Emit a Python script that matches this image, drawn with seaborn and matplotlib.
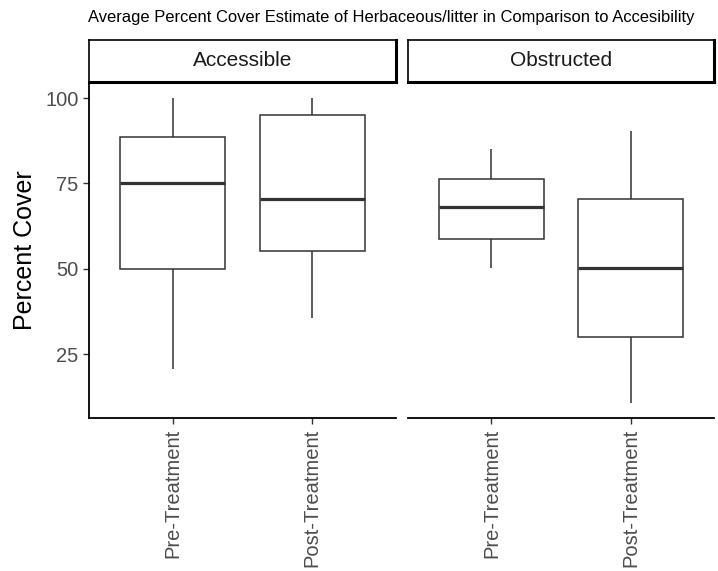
import matplotlib
matplotlib.use("Agg")
import matplotlib.pyplot as plt
import seaborn as sns
import pandas as pd
import numpy as np

# ---- data (5 observations per group, read from box/whisker positions) ----
access_levels = ["Accessible", "Obstructed"]
treatments = ["Pre-Treatment", "Post-Treatment"]
acc_pre = [20.5, 50.0, 75.0, 88.6, 100.0]
acc_post = [35.5, 55.3, 70.5, 95.0, 100.0]
obs_pre = [50.3, 58.7, 68.0, 76.4, 85.2]
obs_post = [10.7, 30.0, 50.3, 70.5, 90.3]
yticks = [25, 50, 75, 100]
title = "Average Percent Cover Estimate of Herbaceous/litter in Comparison to Accesibility"
ylabel = "Percent Cover"

rows = []
for acc, tr, vals in [("Accessible", "Pre-Treatment", acc_pre),
                      ("Accessible", "Post-Treatment", acc_post),
                      ("Obstructed", "Pre-Treatment", obs_pre),
                      ("Obstructed", "Post-Treatment", obs_post)]:
    for v in vals:
        rows.append({"Access": acc, "Treatment": tr, "Cover": v})
df = pd.DataFrame(rows)

sns.set_theme(style="white")
plt.rcParams["font.family"] = ["Liberation Sans", "DejaVu Sans"]

W, H = 718, 571
fig = plt.figure(figsize=(W / 100, H / 100), dpi=100)

def fx(px):
    return px / W

def fy(px):
    return 1 - px / H

panel_x = [(89, 396), (408, 714)]
ptop, pbot = 83, 418
strip_top = 40

allv = df["Cover"]
rng = allv.max() - allv.min()
ylim = (allv.min() - 0.05 * rng, allv.max() + 0.05 * rng)

for i, acc in enumerate(access_levels):
    x0, x1 = panel_x[i]
    ax = fig.add_axes([fx(x0), fy(pbot), fx(x1 - x0), (pbot - ptop) / H])
    sub = df[df["Access"] == acc]
    sns.boxplot(data=sub, x="Treatment", y="Cover", order=treatments, ax=ax,
                color="white", linecolor="#333333", linewidth=1.1, width=0.75,
                showcaps=False, whis=1.5,
                medianprops={"linewidth": 2.3, "color": "#333333"},
                boxprops={"facecolor": "white"})
    ax.set_xlim(-0.6, 1.6)
    ax.set_ylim(*ylim)
    ax.set_xlabel("")
    for s in ["top", "right"]:
        ax.spines[s].set_visible(False)
    ax.spines["bottom"].set_color("black")
    ax.spines["bottom"].set_linewidth(1.3)
    ax.tick_params(axis="x", bottom=True, length=4.5, width=1.0, color="#333333",
                   labelsize=14.5, labelcolor="#4D4D4D", pad=3)
    ax.set_xticks(range(len(treatments)))
    ax.set_xticklabels(treatments, rotation=90, ha="center", va="top")
    if i == 0:
        ax.spines["left"].set_color("black")
        ax.spines["left"].set_linewidth(1.3)
        ax.set_yticks(yticks)
        ax.tick_params(axis="y", left=True, length=4.5, width=1.0, color="#333333",
                       labelsize=14.5, labelcolor="#4D4D4D", pad=3)
        ax.set_ylabel(ylabel, fontsize=18, color="black", labelpad=6)
    else:
        ax.spines["left"].set_visible(False)
        ax.set_yticks([])
        ax.set_ylabel("")
    ax.set_facecolor("white")

    # strip
    sax = fig.add_axes([fx(x0), fy(ptop - 1), fx(x1 - x0), (ptop - 1 - strip_top) / H])
    sax.set_xticks([])
    sax.set_yticks([])
    for side, s in sax.spines.items():
        s.set_color("black")
        s.set_linewidth(2.2 if side in ("right", "bottom") else 1.2)
    sax.set_facecolor("white")
    sax.text(0.5, 0.5, acc, ha="center", va="center", fontsize=15,
             color="#1A1A1A", transform=sax.transAxes)

fig.text(fx(88), fy(17.5), title, ha="left", va="center", fontsize=11.9, color="black")

fig.savefig("out.png", dpi=100, facecolor="white")
